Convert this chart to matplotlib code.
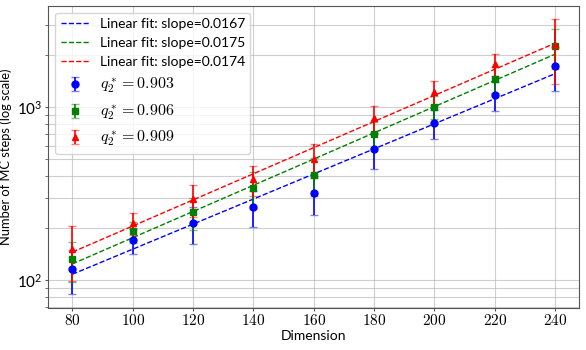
import matplotlib
matplotlib.use("Agg")
import matplotlib.pyplot as plt
import numpy as np
from matplotlib.ticker import FuncFormatter

plt.rcParams['font.family'] = ['Lato', 'DejaVu Sans']
plt.rcParams['mathtext.fontset'] = 'cm'
plt.rcParams['font.size'] = 10

# Data
dims = np.array([80, 100, 120, 140, 160, 180, 200, 220, 240])

q_labels = ["0.903", "0.906", "0.909"]

blue_mean = [116, 170, 213, 266, 320, 572, 810, 1174, 1740]
blue_err = [33, 28, 52, 63, 82, 130, 156, 219, 490]

green_mean = [132, 191, 248, 341, 408, 702, 1008, 1455, 2260]
green_err = [34, 27, 52, 83, 100, 122, 156, 250, 590]

red_mean = [152, 214, 293, 383, 501, 867, 1222, 1785, 2300]
red_err = [53, 31, 60, 76, 112, 155, 192, 265, 930]

series = [
    (blue_mean, blue_err, 'blue', 'o'),
    (green_mean, green_err, 'green', 's'),
    (red_mean, red_err, 'red', '^'),
]

fig = plt.figure(figsize=(5.86, 3.5), dpi=100)
ax = fig.add_axes([0.0824, 0.1209, 0.9062, 0.8628])

for (mean, err, color, marker), q in zip(series, q_labels):
    mean = np.array(mean, dtype=float)
    # exponential fit -> straight line on log axis
    slope, intercept = np.polyfit(dims, np.log(mean), 1)
    cont = ax.errorbar(dims, mean, yerr=err, fmt=marker, color=color, ms=5,
                       capsize=3, elinewidth=1.2, label=rf'$q_2^* = {q}$')
    for cap in cont[1]:
        cap.set_alpha(0.5)
    ax.plot(dims, np.exp(intercept + slope * dims), '--', color=color,
            lw=1, label=f'Linear fit: slope={slope:.4f}')

ax.set_yscale('log')
ax.set_xticks(dims)
ax.xaxis.set_major_formatter(FuncFormatter(lambda v, p: f'${v:g}$'))
ax.tick_params(which='both', length=2, labelsize=11, pad=2, color='#555555')
ax.set_xlabel('Dimension', labelpad=1)
ax.set_ylabel('Number of MC steps (log scale)', fontsize=9.3)
ax.yaxis.set_label_coords(-0.068, 0.5)
for sp in ax.spines.values():
    sp.set_color('#555555')
ax.grid(True, which='both', alpha=0.6)
leg = ax.legend(loc='upper left', fontsize=10)
# math labels look a bit larger in the original
for t in leg.get_texts()[3:]:
    t.set_fontsize(11.5)

fig.savefig('out.png', dpi=100)
